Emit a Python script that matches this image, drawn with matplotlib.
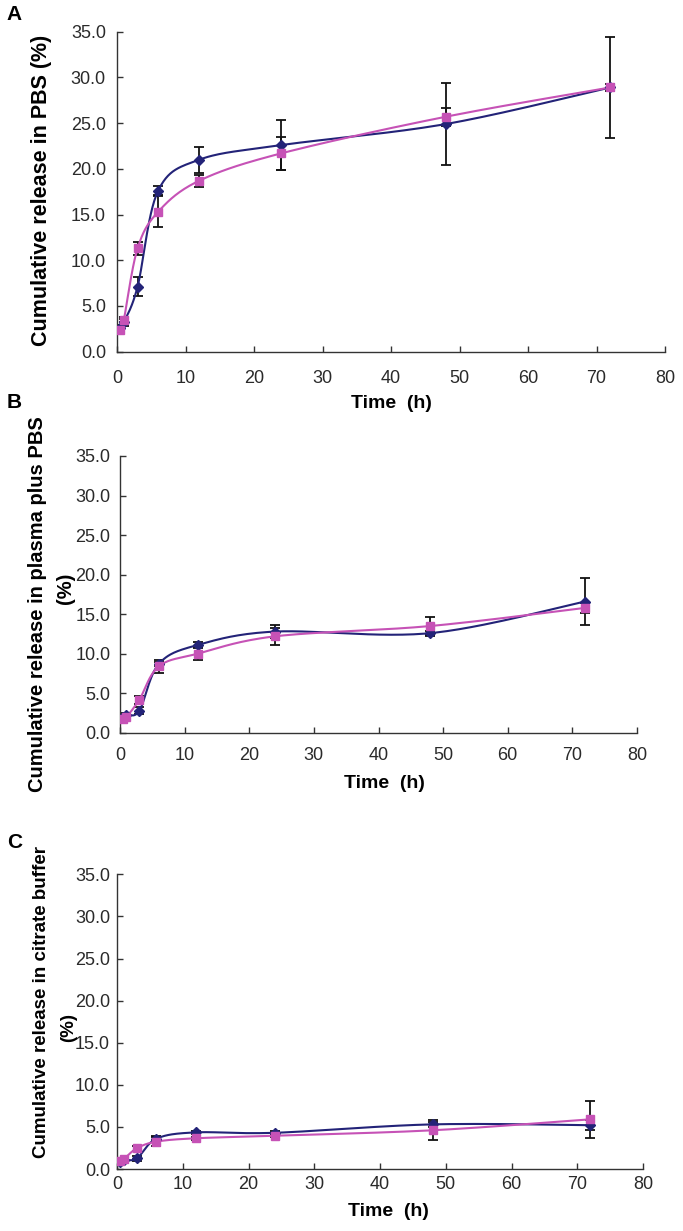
import numpy as np
import matplotlib
matplotlib.use("Agg")
import matplotlib.pyplot as plt

plt.rcParams['font.family'] = ['Liberation Sans', 'DejaVu Sans']

# sampling times (h)
time_h = [0.5, 1, 3, 6, 12, 24, 48, 72]

# panel A - PBS
pbs_blue = [2.6, 3.2, 7.1, 17.6, 21.0, 22.6, 24.9, 28.9]
pbs_blue_err = [0.3, 0.4, 1.05, 0.5, 1.4, 2.7, 4.5, 5.5]
pbs_pink = [2.4, 3.5, 11.3, 15.3, 18.7, 21.7, 25.7, 28.9]
pbs_pink_err = [0.3, 0.3, 0.7, 1.7, 0.65, 1.8, 1.0, 0.35]

# panel B - plasma plus PBS
plasma_blue = [2.0, 2.3, 2.8, 8.7, 11.1, 12.8, 12.6, 16.6]
plasma_blue_err = [0.2, 0.2, 0.4, 0.3, 0.4, 0.8, 0.3, 3.0]
plasma_pink = [1.7, 2.0, 4.2, 8.4, 10.0, 12.2, 13.5, 15.8]
plasma_pink_err = [0.3, 0.3, 0.5, 0.8, 0.8, 1.1, 1.1, 0.6]

# panel C - citrate buffer
citrate_blue = [0.8, 1.1, 1.25, 3.6, 4.35, 4.3, 5.3, 5.2]
citrate_blue_err = [0.1, 0.1, 0.3, 0.3, 0.2, 0.2, 0.3, 0.6]
citrate_pink = [0.95, 1.15, 2.45, 3.25, 3.65, 3.95, 4.6, 5.9]
citrate_pink_err = [0.1, 0.1, 0.3, 0.5, 0.2, 0.2, 1.2, 2.2]

y_ticks = [0, 5, 10, 15, 20, 25, 30, 35]
x_ticks = [0, 10, 20, 30, 40, 50, 60, 70, 80]

BLUE = "#232378"
PINK = "#c652b6"
W, H = 683, 1231


def smooth(x, y, n=30):
    """Excel-like smoothed line (Catmull-Rom bezier through the points)"""
    x = np.asarray(x, float)
    y = np.asarray(y, float)
    m = len(x)
    t = np.linspace(0, 1, n)
    xs, ys = [], []
    for i in range(m - 1):
        i0 = max(i - 1, 0)
        i3 = min(i + 2, m - 1)
        c1x = x[i] + (x[i + 1] - x[i0]) / 6
        c1y = y[i] + (y[i + 1] - y[i0]) / 6
        c2x = x[i + 1] - (x[i3] - x[i]) / 6
        c2y = y[i + 1] - (y[i3] - y[i]) / 6
        bx = (1 - t) ** 3 * x[i] + 3 * (1 - t) ** 2 * t * c1x + 3 * (1 - t) * t ** 2 * c2x + t ** 3 * x[i + 1]
        by = (1 - t) ** 3 * y[i] + 3 * (1 - t) ** 2 * t * c1y + 3 * (1 - t) * t ** 2 * c2y + t ** 3 * y[i + 1]
        xs.extend(bx)
        ys.extend(by)
    return np.array(xs), np.array(ys)


def make_axes(fig, left, right, top, bottom):
    # pixel box -> figure coords
    return fig.add_axes([left / W, 1 - bottom / H, (right - left) / W, (bottom - top) / H])


def draw_panel(ax, blue, blue_err, pink, pink_err, xpad, ypad):
    for vals, errs, col, mk, ms in [(blue, blue_err, BLUE, "D", 5.5),
                                    (pink, pink_err, PINK, "s", 6)]:
        ax.errorbar(time_h, vals, yerr=errs, fmt="none", ecolor="#111111",
                    elinewidth=1.3, capsize=3.5, capthick=1.3, zorder=2)
        sx, sy = smooth(time_h, vals)
        ax.plot(sx, sy, color=col, lw=1.5, zorder=3)
        ax.plot(time_h, vals, linestyle="none", marker=mk, markersize=ms,
                color=col, markeredgecolor=col, zorder=4)
    ax.set_xlim(0, 80)
    ax.set_ylim(0, 35)
    ax.set_xticks(x_ticks)
    ax.set_yticks(y_ticks)
    ax.set_yticklabels([f"{v:.1f}" for v in y_ticks])
    for s in ["top", "right"]:
        ax.spines[s].set_visible(False)
    for s in ["left", "bottom"]:
        ax.spines[s].set_color("#333333")
        ax.spines[s].set_linewidth(1.0)
    ax.tick_params(direction="in", length=4, width=1.0, color="#333333",
                   labelsize=13, labelcolor="#2a2a2a")
    ax.tick_params(axis="x", pad=xpad)
    ax.tick_params(axis="y", pad=ypad)


fig = plt.figure(figsize=(W / 100, H / 100), dpi=100)

# panel A
axA = make_axes(fig, 117, 665, 31.7, 351.7)
draw_panel(axA, pbs_blue, pbs_blue_err, pbs_pink, pbs_pink_err, xpad=13, ypad=8)
fig.text(14 / W, 1 - 15 / H, "A", fontsize=15, fontweight="bold", ha="center", va="center")
fig.text(42 / W, 1 - 190 / H, "Cumulative release in PBS (%)", rotation=90,
         fontsize=15.5, fontweight="bold", ha="center", va="center")
fig.text(391 / W, 1 - 403 / H, "Time  (h)", fontsize=14, fontweight="bold", ha="center", va="center")

# panel B
axB = make_axes(fig, 120, 637, 456, 732.8)
draw_panel(axB, plasma_blue, plasma_blue_err, plasma_pink, plasma_pink_err, xpad=10, ypad=7)
fig.text(14 / W, 1 - 402 / H, "B", fontsize=15, fontweight="bold", ha="center", va="center")
fig.text(38 / W, 1 - 604 / H, "Cumulative release in plasma plus PBS", rotation=90,
         fontsize=14.5, fontweight="bold", ha="center", va="center")
fig.text(65 / W, 1 - 588 / H, "(%)", rotation=90,
         fontsize=14.5, fontweight="bold", ha="center", va="center")
fig.text(384 / W, 1 - 783 / H, "Time  (h)", fontsize=14, fontweight="bold", ha="center", va="center")

# panel C
axC = make_axes(fig, 117, 643, 874.3, 1169)
draw_panel(axC, citrate_blue, citrate_blue_err, citrate_pink, citrate_pink_err, xpad=5, ypad=5)
fig.text(15 / W, 1 - 843 / H, "C", fontsize=15, fontweight="bold", ha="center", va="center")
fig.text(42 / W, 1 - 1002 / H, "Cumulative release in citrate buffer", rotation=90,
         fontsize=13.5, fontweight="bold", ha="center", va="center")
fig.text(69 / W, 1 - 1027 / H, "(%)", rotation=90,
         fontsize=13.5, fontweight="bold", ha="center", va="center")
fig.text(388 / W, 1 - 1212 / H, "Time  (h)", fontsize=14, fontweight="bold", ha="center", va="center")

fig.savefig("out.png", dpi=100)
